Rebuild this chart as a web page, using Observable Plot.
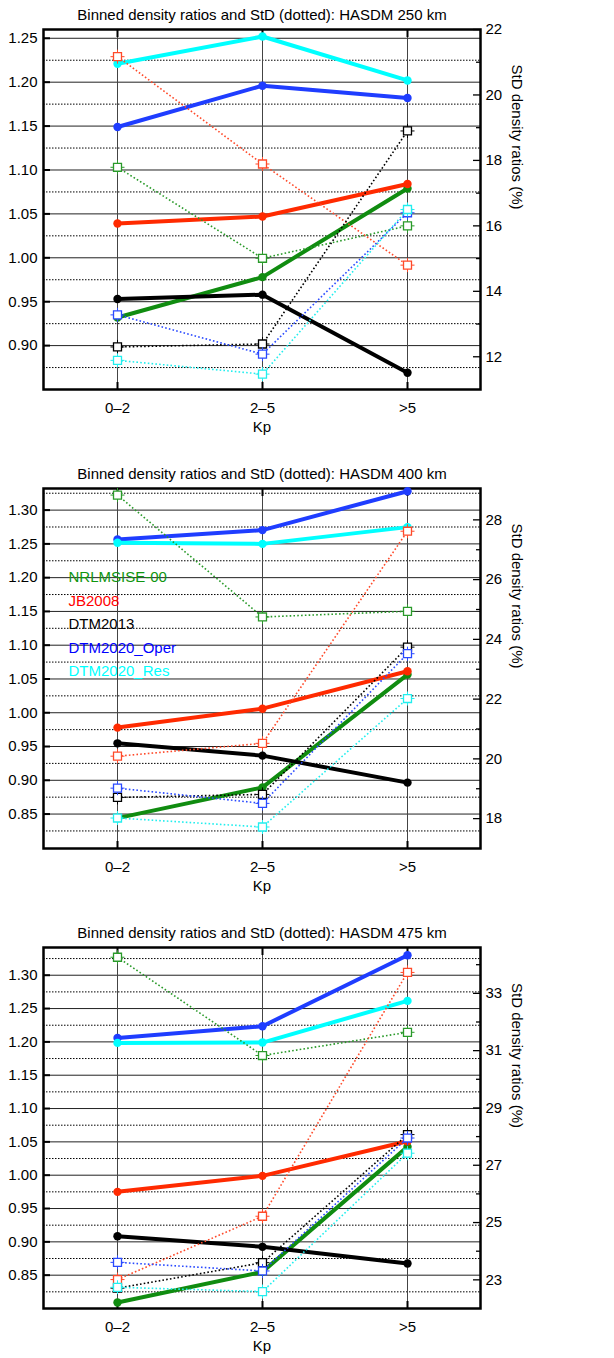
<!DOCTYPE html>
<html><head><meta charset="utf-8">
<script src="https://cdn.jsdelivr.net/npm/d3@7"></script>
<script src="https://cdn.jsdelivr.net/npm/@observablehq/plot@0.6"></script>
<style>body{margin:0;background:#fff} svg{display:block}</style>
</head><body><div id="chart"></div>
<script>
// ---- data ----
const kp = ["0–2", "2–5", ">5"];
const models = ["NRLMSISE-00", "JB2008", "DTM2013", "DTM2020_Oper", "DTM2020_Res"];
const lineColors = ["#108c10", "#ff2a00", "#000000", "#1f3dff", "#00ffff"];
const squareColors = ["#2a9a2a", "#ff4a2a", "#000000", "#2a4aff", "#22eeee"];
const legendColors = ["#0f960f", "#ff0000", "#000000", "#0000ff", "#00ffff"];
const titles = [
  "Binned density ratios and StD (dotted): HASDM 250 km",
  "Binned density ratios and StD (dotted): HASDM 400 km",
  "Binned density ratios and StD (dotted): HASDM 475 km"
];
// density ratios (solid), rows in model order, columns in Kp order
const ratio250 = [[0.932, 0.978, 1.079], [1.039, 1.047, 1.084], [0.953, 0.958, 0.869], [1.149, 1.196, 1.182], [1.221, 1.252, 1.202]];
const ratio400 = [[0.844, 0.8895, 1.0565], [0.978, 1.006, 1.0614], [0.9547, 0.9365, 0.8965], [1.2565, 1.2704, 1.328], [1.2516, 1.250, 1.2748]];
const ratio475 = [[0.809, 0.855, 1.0425], [0.975, 0.999, 1.051], [0.9085, 0.8925, 0.8676], [1.206, 1.2235, 1.33], [1.1985, 1.199, 1.2615]];
// StD of density ratios in % (dotted)
const std250 = [[17.79, 15.01, 16.0], [21.17, 17.89, 14.80], [12.30, 12.39, 18.90], [13.28, 12.08, 16.4], [11.89, 11.47, 16.50]];
const std400 = [[28.83, 24.75, 24.94], [20.09, 20.52, 27.62], [18.71, 18.81, 23.74], [19.02, 18.51, 23.52], [18.02, 17.72, 22.02]];
const std475 = [[34.26, 30.83, 31.64], [23.01, 25.22, 33.73], [22.71, 23.60, 28.07], [23.61, 23.31, 27.95], [22.74, 22.59, 27.42]];
// axis domains and ticks
const leftDomains = [[0.85, 1.26], [0.799, 1.332], [0.80, 1.3416]];
const rightDomains = [[11, 22], [17, 29.05], [22, 34.6]];
const leftMajor = [[0.90, 0.95, 1.00, 1.05, 1.10, 1.15, 1.20, 1.25], [0.85, 0.90, 0.95, 1.00, 1.05, 1.10, 1.15, 1.20, 1.25, 1.30], [0.85, 0.90, 0.95, 1.00, 1.05, 1.10, 1.15, 1.20, 1.25, 1.30]];
const leftMinor = [[0.875, 0.925, 0.975, 1.025, 1.075, 1.125, 1.175, 1.225], [0.825, 0.875, 0.925, 0.975, 1.025, 1.075, 1.125, 1.175, 1.225, 1.275, 1.325], [0.825, 0.875, 0.925, 0.975, 1.025, 1.075, 1.125, 1.175, 1.225, 1.275, 1.325]];
const rightMajor = [[12, 14, 16, 18, 20, 22], [18, 20, 22, 24, 26, 28], [23, 25, 27, 29, 31, 33]];
const rightMinor = [[13, 15, 17, 19, 21], [19, 21, 23, 25, 27], [24, 26, 28, 30, 32, 34]];
const rightLabel = "StD density ratios (%)";
const xLabel = "Kp";

// ---- layout ----
const layout = [
  {height: 458, marginTop: 29, marginBottom: 69},
  {height: 460, marginTop: 30, marginBottom: 70},
  {height: 440, marginTop: 29, marginBottom: 50}
];
const ratios = [ratio250, ratio400, ratio475];
const stds = [std250, std400, std475];
const FONT = "'Liberation Sans', Arial, Helvetica, sans-serif";

function panel(p) {
  const [y0, y1] = leftDomains[p];
  const [s0, s1] = rightDomains[p];
  const toY = s => y0 + (s - s0) * (y1 - y0) / (s1 - s0);
  const toS = v => s0 + (v - y0) * (s1 - s0) / (y1 - y0);
  const marks = [
    Plot.gridY({ticks: leftMinor[p], stroke: "#000", strokeOpacity: 1, strokeWidth: 1, strokeDasharray: "1.5,1.5"}),
    Plot.gridY({ticks: leftMajor[p], stroke: "#222", strokeOpacity: 1, strokeWidth: 1}),
    Plot.gridX({ticks: kp, stroke: "#444", strokeOpacity: 1, strokeWidth: 1}),
    Plot.frame({stroke: "#000", strokeWidth: 2.5}),
    Plot.axisY({anchor: "left", ticks: leftMajor[p], tickSize: 0, tickPadding: 6, tickFormat: d3.format(".2f"), fontSize: 15, label: null}),
    Plot.axisY({anchor: "left", ticks: leftMajor[p], tickSize: 7, dx: 7, fill: "none", label: null, strokeWidth: 2}),
    Plot.axisY({anchor: "right", ticks: rightMajor[p].map(toY), tickSize: 0, tickPadding: 5, tickFormat: v => String(Math.round(toS(v))), fontSize: 15, textAnchor: "start", label: null}),
    Plot.axisY({anchor: "right", ticks: rightMajor[p].map(toY), tickSize: 8, dx: -8, fill: "none", label: null, strokeWidth: 1.3}),
    Plot.axisY({anchor: "right", ticks: rightMinor[p].map(toY), tickSize: 5, dx: -5, fill: "none", label: null, strokeWidth: 1.3}),
    Plot.axisX({anchor: "bottom", ticks: kp, tickSize: 0, tickPadding: 13, fontSize: 15, label: null}),
    Plot.axisX({anchor: "bottom", ticks: kp, tickSize: 7, dy: -7, fill: "none", label: null, strokeWidth: 2}),
    Plot.axisX({anchor: "top", ticks: kp, tickSize: 7, dy: 7, fill: "none", label: null, strokeWidth: 2}),
    Plot.text([titles[p]], {frameAnchor: "top", dy: -14, lineAnchor: "middle", fontSize: 15}),
    Plot.text([xLabel], {frameAnchor: "bottom", dy: 38, lineAnchor: "middle", fontSize: 15}),
    Plot.text([rightLabel], {frameAnchor: "right", dx: 36, rotate: 90, lineAnchor: "middle", fontSize: 15})
  ];
  // solid ratio lines
  models.forEach((m, i) => {
    const rows = kp.map((k, j) => ({kp: k, v: ratios[p][i][j]}));
    marks.push(Plot.line(rows, {x: "kp", y: "v", stroke: lineColors[i], strokeWidth: 4}));
    marks.push(Plot.dot(rows, {x: "kp", y: "v", r: 4.2, fill: lineColors[i]}));
  });
  // dotted StD lines
  models.forEach((m, i) => {
    const rows = kp.map((k, j) => ({kp: k, v: toY(stds[p][i][j])}));
    marks.push(Plot.line(rows, {x: "kp", y: "v", stroke: squareColors[i], strokeWidth: 1.6, strokeDasharray: "1.6,2.2", strokeLinecap: "butt"}));
    marks.push(Plot.dot(rows, {x: "kp", y: "v", symbol: "plus", r: 4.6, stroke: squareColors[i], strokeWidth: 1}));
    marks.push(Plot.dot(rows, {x: "kp", y: "v", symbol: "square", r: 4.5, fill: "white", stroke: squareColors[i], strokeWidth: 1.3}));
  });
  if (p === 1) {
    models.forEach((m, i) => {
      marks.push(Plot.text([m], {frameAnchor: "top-left", dx: 25, dy: 89 + i * 23.5, textAnchor: "start", lineAnchor: "middle", fill: legendColors[i], fontSize: 15}));
    });
  }
  return Plot.plot({
    width: 614,
    height: layout[p].height,
    marginLeft: 43,
    marginRight: 134,
    marginTop: layout[p].marginTop,
    marginBottom: layout[p].marginBottom,
    style: {fontFamily: FONT, fontSize: "15px", background: "white", color: "black"},
    x: {type: "point", domain: kp, padding: 0.5},
    y: {domain: leftDomains[p]},
    marks
  });
}

const root = document.getElementById("chart");
for (let p = 0; p < 3; p++) root.appendChild(panel(p));
</script>
</body></html>
